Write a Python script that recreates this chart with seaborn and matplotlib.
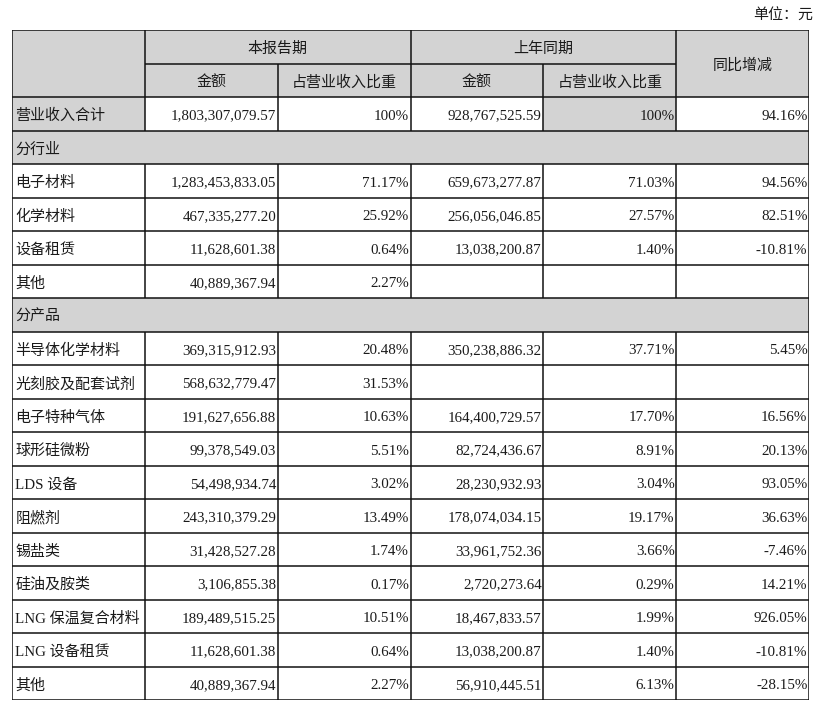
import numpy as np
import pandas as pd
import seaborn as sns
import matplotlib
matplotlib.use("Agg")
import matplotlib.pyplot as plt
from matplotlib.colors import ListedColormap

sns.set_theme(style="white")
plt.rcParams['font.family'] = ['Liberation Serif', 'Noto Sans CJK SC']

# header texts
unit_text = "单位：元"
group_cur = "本报告期"
group_prev = "上年同期"
col_amt = "金额"
col_pct = "占营业收入比重"
col_yoy = "同比增减"

# total row
total_label = "营业收入合计"
total_vals = ["1,803,307,079.57", "100%", "928,767,525.59", "100%", "94.16%"]

# by industry
sec_industry = "分行业"
industry_labels = ["电子材料", "化学材料", "设备租赁", "其他"]
industry_cur_amt = ["1,283,453,833.05", "467,335,277.20", "11,628,601.38", "40,889,367.94"]
industry_cur_pct = ["71.17%", "25.92%", "0.64%", "2.27%"]
industry_prev_amt = ["659,673,277.87", "256,056,046.85", "13,038,200.87", ""]
industry_prev_pct = ["71.03%", "27.57%", "1.40%", ""]
industry_yoy = ["94.56%", "82.51%", "-10.81%", ""]

# by product
sec_product = "分产品"
product_labels = ["半导体化学材料", "光刻胶及配套试剂", "电子特种气体", "球形硅微粉", "LDS 设备",
                  "阻燃剂", "锡盐类", "硅油及胺类", "LNG 保温复合材料", "LNG 设备租赁", "其他"]
product_cur_amt = ["369,315,912.93", "568,632,779.47", "191,627,656.88", "99,378,549.03",
                   "54,498,934.74", "243,310,379.29", "31,428,527.28", "3,106,855.38",
                   "189,489,515.25", "11,628,601.38", "40,889,367.94"]
product_cur_pct = ["20.48%", "31.53%", "10.63%", "5.51%", "3.02%", "13.49%", "1.74%",
                   "0.17%", "10.51%", "0.64%", "2.27%"]
product_prev_amt = ["350,238,886.32", "", "164,400,729.57", "82,724,436.67", "28,230,932.93",
                    "178,074,034.15", "33,961,752.36", "2,720,273.64", "18,467,833.57",
                    "13,038,200.87", "56,910,445.51"]
product_prev_pct = ["37.71%", "", "17.70%", "8.91%", "3.04%", "19.17%", "3.66%", "0.29%",
                    "1.99%", "1.40%", "6.13%"]
product_yoy = ["5.45%", "", "16.56%", "20.13%", "93.05%", "36.63%", "-7.46%", "14.21%",
               "926.05%", "-10.81%", "-28.15%"]

GRAY = "#d3d3d3"
TXT = "#1a1a1a"

# body rows: (kind, cells)
body = [("total", [total_label] + total_vals), ("section", [sec_industry])]
for i in range(len(industry_labels)):
    body.append(("data", [industry_labels[i], industry_cur_amt[i], industry_cur_pct[i],
                          industry_prev_amt[i], industry_prev_pct[i], industry_yoy[i]]))
body.append(("section", [sec_product]))
for i in range(len(product_labels)):
    body.append(("data", [product_labels[i], product_cur_amt[i], product_cur_pct[i],
                          product_prev_amt[i], product_prev_pct[i], product_yoy[i]]))

n_rows = 2 + len(body)
n_cols = 6

shade = np.zeros((n_rows, n_cols))
shade[0:2, :] = 1
for r, (kind, cells) in enumerate(body, start=2):
    if kind == "section":
        shade[r, :] = 1
    elif kind == "total":
        shade[r, 0] = 1
        shade[r, 4] = 1
shade_df = pd.DataFrame(shade)

fig = plt.figure(figsize=(8.34, 7.01), dpi=100)
W, H = 834, 701
ax = fig.add_axes([12 / W, 1 - 700 / H, (809 - 12) / W, (700 - 30) / H])
sns.heatmap(shade_df, ax=ax, cmap=ListedColormap(["white", GRAY]), vmin=0, vmax=1,
            cbar=False, xticklabels=False, yticklabels=False)

lw = 1.1
lc = "#111111"
# horizontal lines
for y in range(n_rows + 1):
    if y == 1:
        ax.hlines(y, 1, 5, color=lc, lw=lw)
    else:
        ax.hlines(y, 0, n_cols, color=lc, lw=lw)
# vertical lines
section_rows = [r for r, (k, _) in enumerate(body, start=2) if k == "section"]
for r in range(n_rows):
    for x in range(n_cols + 1):
        if r == 0 and x in (2, 4):
            continue
        if r in section_rows and 0 < x < n_cols:
            continue
        ax.vlines(x, r, r + 1, color=lc, lw=lw)

fs = 10.8
pad_l = 0.025
pad_r = 0.012
dy = 0.07  # nudge text down to sit like the reference
# header
ax.text(2, 0.5 + dy, group_cur, ha="center", va="center", fontsize=fs, color=TXT)
ax.text(4, 0.5 + dy, group_prev, ha="center", va="center", fontsize=fs, color=TXT)
ax.text(5.5, 1.0 + dy, col_yoy, ha="center", va="center", fontsize=fs, color=TXT)
for c, t in zip([1, 2, 3, 4], [col_amt, col_pct, col_amt, col_pct]):
    ax.text(c + 0.5, 1.5 + dy, t, ha="center", va="center", fontsize=fs, color=TXT)

for r, (kind, cells) in enumerate(body, start=2):
    yc = r + 0.5 + dy
    ax.text(pad_l, yc, cells[0], ha="left", va="center", fontsize=fs, color=TXT)
    for c, t in enumerate(cells[1:], start=1):
        if t:
            ax.text(c + 1 - pad_r, yc, t, ha="right", va="center", fontsize=fs, color=TXT)

fig.text(813 / W, 1 - 16 / H, unit_text, ha="right", va="center", fontsize=fs, color=TXT)

fig.savefig("out.png", dpi=100)
